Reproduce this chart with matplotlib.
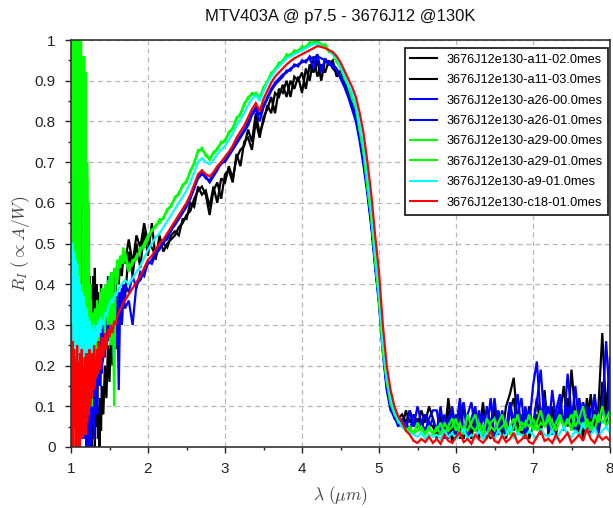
import numpy as np
import matplotlib
matplotlib.use("Agg")
import matplotlib.pyplot as plt

plt.rcParams['font.family'] = ['Liberation Sans', 'DejaVu Sans']
plt.rcParams['mathtext.fontset'] = 'cm'

title = "MTV403A @ p7.5 - 3676J12 @130K"
xlabel = r"$\lambda\ (\mu m)$"
ylabel = r"$R_I\ (\propto A/W)$"

# wavelength grids (µm)
wl_head1 = np.round(np.arange(1.00, 1.4001, 0.01), 3)  # 41 pts
wl_head2 = np.round(np.arange(1.42, 1.7001, 0.02), 3)  # 15 pts
wl_mid = np.round(np.arange(1.75, 5.7001, 0.05), 3)    # 80 pts
wl_tail = np.round(np.arange(5.75, 8.0001, 0.05), 3)   # 46 pts

labels = ["3676J12e130-a11-02.0mes", "3676J12e130-a11-03.0mes",
          "3676J12e130-a26-00.0mes", "3676J12e130-a26-01.0mes",
          "3676J12e130-a29-00.0mes", "3676J12e130-a29-01.0mes",
          "3676J12e130-a9-01.0mes", "3676J12e130-c18-01.0mes"]
colors = ["#000000", "#000000", "#0000ff", "#0000ff",
          "#00ff00", "#00ff00", "#00ffff", "#ff0000"]

# ---- a11-02 (black)
a11_02_head = [1.05,0.50,1.05,0.80,1.05,0.60,1.05,0.70,1.05,0.45,1.05,0.75,1.05,0.55,0.95,0.40,0.90,0.30,0.76,0.25,
               0.70,0.20,0.60,0.10,0.42,0.05,0.40,0.0,0.35,0.02,0.42,0.0,0.30,0.05,0.15,0.02,0.10,0.0,0.12,0.04,0.15,
               0.08,0.20,0.12,0.25,0.16,0.28,0.20,0.30,0.24,0.33,0.28,0.38,0.30,0.40,0.36]
a11_02_mid = [0.48,0.42,0.50,0.44,0.53,0.47,0.55,0.46,0.52,0.48,0.50,0.51,0.52,0.54,0.55,0.57,0.58,0.61,0.63,0.64,
              0.62,0.57,0.63,0.65,0.61,0.67,0.68,0.65,0.72,0.69,0.75,0.76,0.73,0.80,0.76,0.81,0.83,0.86,0.82,0.88,
              0.87,0.90,0.86,0.91,0.90,0.92,0.88,0.94,0.92,0.95,0.90,0.95,0.94,0.95,0.91,0.925,0.90,0.88,0.86,0.82,
              0.78,0.72,0.64,0.56,0.46,0.37,0.25,0.16,0.12,0.09,0.07,0.08,0.06,0.09,0.05,0.07,0.04,0.08,0.06,0.05]
a11_02_tail = [0.03,0.09,0.02,0.12,0.04,0.08,0.02,0.10,0.05,0.02,0.09,0.03,0.11,0.02,0.07,0.02,0.08,0.03,0.10,0.13,
               0.17,0.06,0.03,0.09,0.02,0.05,0.12,0.04,0.14,0.03,0.10,0.04,0.08,0.15,0.05,0.19,0.08,0.03,0.11,0.05,
               0.13,0.04,0.10,0.28,0.08,0.22]

# ---- a11-03 (black)
a11_03_head = [1.05,0.95,1.05,0.60,1.05,0.85,1.05,0.94,0.70,1.05,0.55,0.94,0.60,0.76,0.35,0.70,0.40,0.60,0.25,0.55,
               0.30,0.42,0.15,0.38,0.10,0.35,0.05,0.30,0.10,0.42,0.30,0.44,0.25,0.40,0.28,0.38,0.25,0.36,0.30,0.40,0.33,
               0.28,0.36,0.30,0.39,0.33,0.41,0.35,0.43,0.38,0.44,0.40,0.46,0.42,0.47,0.45]
a11_03_mid = [0.51,0.45,0.52,0.49,0.55,0.50,0.49,0.47,0.49,0.50,0.49,0.52,0.53,0.52,0.56,0.56,0.60,0.59,0.64,0.62,
              0.63,0.59,0.64,0.60,0.66,0.65,0.69,0.66,0.71,0.73,0.74,0.78,0.75,0.82,0.77,0.80,0.84,0.82,0.87,0.86,
              0.89,0.86,0.90,0.88,0.91,0.87,0.93,0.90,0.96,0.91,0.94,0.92,0.95,0.93,0.92,0.91,0.89,0.87,0.84,0.81,
              0.77,0.71,0.63,0.55,0.45,0.36,0.24,0.15,0.11,0.08,0.07,0.05,0.09,0.06,0.08,0.05,0.09,0.06,0.10,0.07]
a11_03_tail = [0.02,0.07,0.03,0.09,0.01,0.06,0.10,0.02,0.08,0.03,0.07,0.02,0.09,0.04,0.02,0.10,0.03,0.07,0.02,0.09,
               0.12,0.03,0.08,0.02,0.10,0.04,0.08,0.03,0.12,0.05,0.09,0.03,0.10,0.05,0.12,0.06,0.04,0.10,0.02,0.12,
               0.05,0.09,0.03,0.16,0.06,0.11]

# ---- a26-00 (blue)
a26_00_head = [1.05,0.0,1.05,0.20,1.05,0.85,0.96,0.40,0.96,0.55,0.95,0.30,0.95,0.20,0.60,0.45,0.15,0.40,0.10,0.33,
               0.05,0.30,0.08,0.25,0.0,0.28,0.12,0.30,0.05,0.30,0.18,0.32,0.10,0.30,0.20,0.33,0.15,0.30,0.22,0.31,0.20,
               0.22,0.36,0.25,0.42,0.28,0.38,0.22,0.36,0.25,0.37,0.14,0.38,0.30,0.40,0.34]
a26_00_mid = [0.36,0.30,0.40,0.41,0.43,0.45,0.46,0.48,0.49,0.50,0.52,0.53,0.55,0.565,0.58,0.595,0.615,0.64,0.665,0.675,
              0.66,0.655,0.67,0.685,0.695,0.705,0.72,0.735,0.75,0.765,0.78,0.80,0.82,0.835,0.815,0.84,0.86,0.88,0.895,0.905,
              0.915,0.92,0.93,0.935,0.94,0.945,0.95,0.955,0.93,0.96,0.955,0.95,0.945,0.94,0.93,0.91,0.89,0.865,0.84,0.81,
              0.76,0.70,0.63,0.55,0.45,0.36,0.24,0.15,0.10,0.07,0.06,0.05,0.06,0.04,0.08,0.05,0.06,0.04,0.07,0.09]
a26_00_tail = [0.09,0.03,0.08,0.02,0.10,0.04,0.12,0.03,0.08,0.11,0.04,0.09,0.02,0.10,0.05,0.12,0.03,0.09,0.04,0.11,
               0.06,0.13,0.04,0.10,0.05,0.15,0.21,0.07,0.12,0.04,0.14,0.06,0.11,0.05,0.18,0.08,0.04,0.12,0.06,0.10,
               0.03,0.13,0.05,0.09,0.26,0.10]

# ---- a26-01 (blue)
a26_01_head = [0.0,1.05,0.40,1.05,0.70,1.05,0.50,0.98,0.30,0.98,0.20,0.90,0.15,0.60,0.10,0.30,0.05,0.25,0.02,0.22,
               0.0,0.25,0.0,0.20,0.03,0.22,0.0,0.22,0.06,0.25,0.02,0.26,0.12,0.28,0.08,0.28,0.18,0.30,0.15,0.31,0.18,
               0.30,0.22,0.33,0.26,0.34,0.28,0.36,0.30,0.37,0.32,0.38,0.34,0.39,0.36,0.40]
a26_01_mid = [0.38,0.42,0.39,0.43,0.42,0.455,0.45,0.475,0.485,0.505,0.51,0.535,0.545,0.56,0.575,0.59,0.61,0.635,0.66,0.67,
              0.665,0.65,0.665,0.68,0.70,0.70,0.715,0.73,0.745,0.76,0.775,0.79,0.815,0.83,0.80,0.835,0.855,0.875,0.89,0.90,
              0.91,0.925,0.925,0.94,0.935,0.95,0.945,0.96,0.95,0.965,0.92,0.955,0.94,0.935,0.925,0.905,0.885,0.86,0.83,0.80,
              0.75,0.69,0.62,0.54,0.44,0.35,0.23,0.14,0.09,0.075,0.05,0.07,0.04,0.09,0.05,0.10,0.06,0.08,0.05,0.07]
a26_01_tail = [0.04,0.10,0.02,0.07,0.09,0.03,0.08,0.11,0.02,0.07,0.10,0.03,0.08,0.04,0.12,0.02,0.09,0.05,0.03,0.10,
               0.04,0.08,0.12,0.03,0.09,0.05,0.11,0.19,0.06,0.10,0.03,0.09,0.13,0.04,0.10,0.06,0.15,0.05,0.11,0.04,
               0.09,0.12,0.03,0.10,0.06,0.14]

# ---- a29-00 (green)
a29_00_head = [1.05,0.30,1.05,0.45,1.05,0.90,1.05,0.35,1.05,0.65,1.05,0.50,1.05,0.95,0.60,0.96,0.40,0.96,0.30,0.92,
               0.25,0.66,0.35,0.60,0.28,0.40,0.22,0.33,0.20,0.31,0.24,0.34,0.25,0.30,0.22,0.33,0.26,0.35,0.28,0.38,0.30,
               0.35,0.28,0.40,0.30,0.42,0.25,0.43,0.10,0.44,0.40,0.45,0.44,0.47,0.45,0.48]
a29_00_mid = [0.44,0.45,0.47,0.48,0.50,0.52,0.53,0.545,0.55,0.565,0.58,0.595,0.61,0.625,0.64,0.655,0.675,0.70,0.725,0.735,
              0.715,0.71,0.72,0.735,0.745,0.755,0.77,0.785,0.805,0.82,0.84,0.86,0.865,0.87,0.86,0.88,0.90,0.915,0.93,0.94,
              0.95,0.96,0.965,0.97,0.975,0.98,0.985,0.99,0.995,0.995,0.99,0.985,0.975,0.965,0.95,0.93,0.91,0.885,0.86,0.83,
              0.78,0.72,0.64,0.56,0.46,0.36,0.24,0.16,0.11,0.08,0.065,0.05,0.045,0.04,0.035,0.04,0.05,0.03,0.045,0.035]
a29_00_tail = [0.04,0.06,0.03,0.05,0.07,0.04,0.06,0.03,0.08,0.05,0.04,0.06,0.03,0.07,0.05,0.04,0.06,0.08,0.04,0.05,
               0.07,0.03,0.06,0.05,0.08,0.04,0.06,0.09,0.05,0.07,0.04,0.06,0.08,0.05,0.07,0.04,0.09,0.06,0.05,0.07,
               0.04,0.08,0.06,0.10,0.05,0.07]

# ---- a29-01 (green)
a29_01_head = [1.05,0.95,1.05,0.40,1.05,0.70,1.05,0.92,1.05,0.30,1.05,0.96,0.35,1.05,0.65,0.96,0.30,0.90,0.45,0.80,
               0.30,0.70,0.20,0.45,0.33,0.15,0.36,0.10,0.30,0.20,0.33,0.15,0.32,0.22,0.36,0.25,0.34,0.28,0.37,0.30,0.39,
               0.32,0.40,0.35,0.41,0.36,0.43,0.38,0.44,0.42,0.46,0.45,0.47,0.46,0.49,0.47]
a29_01_mid = [0.43,0.46,0.46,0.49,0.49,0.51,0.535,0.54,0.56,0.56,0.585,0.59,0.615,0.62,0.645,0.65,0.68,0.695,0.73,0.73,
              0.72,0.705,0.725,0.73,0.75,0.75,0.775,0.78,0.81,0.815,0.845,0.855,0.87,0.865,0.855,0.885,0.895,0.92,0.925,0.945,
              0.945,0.965,0.96,0.975,0.97,0.985,0.98,0.995,0.99,1.0,0.985,0.99,0.97,0.97,0.945,0.935,0.905,0.89,0.855,0.835,
              0.775,0.725,0.635,0.565,0.455,0.365,0.235,0.165,0.105,0.085,0.06,0.055,0.04,0.05,0.03,0.06,0.04,0.035,0.05,0.03]
a29_01_tail = [0.05,0.03,0.06,0.04,0.05,0.07,0.03,0.05,0.04,0.06,0.08,0.04,0.05,0.03,0.06,0.07,0.04,0.05,0.06,0.03,
               0.05,0.08,0.04,0.06,0.05,0.07,0.04,0.06,0.05,0.08,0.06,0.04,0.07,0.05,0.06,0.08,0.05,0.07,0.10,0.05,
               0.06,0.04,0.08,0.06,0.07,0.09]

# ---- a9-01 (cyan)
a9_01_head = [0.52,0.20,0.50,0.18,0.48,0.22,0.46,0.19,0.45,0.20,0.42,0.18,0.40,0.21,0.38,0.19,0.37,0.20,0.35,0.22,
              0.34,0.21,0.32,0.22,0.31,0.23,0.30,0.22,0.29,0.24,0.30,0.25,0.28,0.26,0.30,0.27,0.31,0.28,0.32,0.29,0.31,
              0.30,0.33,0.32,0.34,0.35,0.36,0.355,0.37,0.375,0.38,0.39,0.395,0.40,0.405,0.41]
a9_01_mid = [0.40,0.415,0.43,0.445,0.465,0.485,0.50,0.515,0.525,0.54,0.555,0.57,0.585,0.60,0.615,0.63,0.65,0.675,0.70,0.71,
             0.70,0.695,0.705,0.72,0.73,0.74,0.755,0.77,0.79,0.805,0.82,0.84,0.855,0.865,0.85,0.875,0.895,0.91,0.925,0.935,
             0.945,0.955,0.96,0.965,0.97,0.975,0.98,0.985,0.99,0.99,0.985,0.98,0.975,0.965,0.955,0.935,0.915,0.89,0.87,0.84,
             0.79,0.74,0.66,0.58,0.48,0.38,0.26,0.17,0.12,0.085,0.065,0.05,0.04,0.035,0.03,0.025,0.035,0.02,0.03,0.025]
a9_01_tail = [0.03,0.02,0.04,0.025,0.035,0.02,0.03,0.045,0.02,0.03,0.025,0.04,0.02,0.035,0.03,0.02,0.04,0.025,0.03,0.05,
              0.02,0.035,0.03,0.025,0.04,0.03,0.02,0.045,0.03,0.025,0.04,0.02,0.035,0.05,0.03,0.025,0.04,0.03,0.06,0.035,
              0.03,0.045,0.025,0.04,0.05,0.035]

# ---- c18-01 (red)
c18_01_head = [0.30,0.02,0.26,0.0,0.24,0.05,0.22,0.0,0.25,0.03,0.21,0.0,0.23,0.04,0.24,0.02,0.20,0.05,0.22,0.03,
               0.23,0.06,0.21,0.08,0.24,0.10,0.22,0.12,0.23,0.14,0.25,0.15,0.22,0.17,0.24,0.18,0.26,0.19,0.25,0.20,0.27,
               0.22,0.28,0.24,0.29,0.27,0.30,0.28,0.31,0.30,0.32,0.33,0.34,0.345,0.355,0.36]
c18_01_mid = [0.375,0.39,0.405,0.42,0.44,0.46,0.47,0.485,0.50,0.51,0.525,0.54,0.555,0.57,0.585,0.60,0.62,0.645,0.67,0.68,
              0.67,0.665,0.675,0.69,0.70,0.713,0.725,0.74,0.76,0.775,0.79,0.81,0.83,0.845,0.825,0.855,0.875,0.895,0.91,0.92,
              0.93,0.94,0.948,0.955,0.96,0.965,0.97,0.975,0.98,0.985,0.983,0.98,0.975,0.97,0.96,0.945,0.925,0.905,0.885,0.86,
              0.82,0.77,0.70,0.62,0.52,0.43,0.30,0.20,0.14,0.10,0.075,0.06,0.04,0.03,0.015,0.01,0.02,0.012,0.025,0.01]
c18_01_tail = [0.02,0.008,0.03,0.015,0.01,0.025,0.035,0.012,0.02,0.008,0.03,0.018,0.01,0.022,0.038,0.015,0.01,0.028,0.012,0.02,
               0.035,0.01,0.018,0.03,0.012,0.008,0.025,0.04,0.015,0.02,0.01,0.03,0.012,0.022,0.035,0.01,0.02,0.03,0.015,0.045,
               0.02,0.01,0.03,0.018,0.025,0.015]

series = [
    (a11_02_head, a11_02_mid, a11_02_tail),
    (a11_03_head, a11_03_mid, a11_03_tail),
    (a26_00_head, a26_00_mid, a26_00_tail),
    (a26_01_head, a26_01_mid, a26_01_tail),
    (a29_00_head, a29_00_mid, a29_00_tail),
    (a29_01_head, a29_01_mid, a29_01_tail),
    (a9_01_head, a9_01_mid, a9_01_tail),
    (c18_01_head, c18_01_mid, c18_01_tail),
]

wl = np.concatenate([wl_head1, wl_head2, wl_mid, wl_tail])

fig = plt.figure(figsize=(6.13, 5.08), dpi=100)
ax = fig.add_axes([71/613, 61/508, 539/613, 407/508])

for (h, m, t), lab, col in zip(series, labels, colors):
    y = np.concatenate([h, m, t])
    ax.plot(wl, y, color=col, lw=1.6, label=lab, solid_joinstyle='miter')

ax.set_xlim(1, 8)
ax.set_ylim(0, 1)
ax.set_xticks(np.arange(1, 9, 1))
ax.set_xticklabels([str(i) for i in range(1, 9)])
ax.set_yticks(np.round(np.arange(0, 1.01, 0.1), 1))
ax.set_yticklabels(["0"] + [f"{v:.1f}" for v in np.arange(0.1, 0.95, 0.1)] + ["1"])
ax.set_xticks(np.arange(1.5, 8, 1.0), minor=True)
ax.set_yticks(np.arange(0.05, 1.0, 0.1), minor=True)
ax.tick_params(which='major', direction='out', length=4, width=1, labelsize=11, pad=7, colors='#222222')
ax.tick_params(which='minor', direction='out', length=2.5, width=1, colors='#222222')
ax.grid(True, which='major', color='#b8b8b8', linestyle=(0, (4, 3)), lw=0.9)
ax.set_axisbelow(True)
for s in ax.spines.values():
    s.set_color('#333333')
    s.set_linewidth(1.2)

ax.set_title(title, fontsize=12, pad=14, color='#111111')
ax.set_xlabel(xlabel, fontsize=12.5, labelpad=6, color='#444444')
ax.set_ylabel(ylabel, fontsize=12.5, labelpad=2, color='#444444')

leg = ax.legend(loc='upper right', bbox_to_anchor=(608/613, (508-48)/508),
                bbox_transform=fig.transFigure, borderaxespad=0,
                fontsize=9.2, handlelength=2.1, handletextpad=0.7,
                labelspacing=0.66, borderpad=0.45, fancybox=False,
                framealpha=1, edgecolor='#222222')
leg.get_frame().set_linewidth(1.3)
for line in leg.get_lines():
    line.set_linewidth(1.5)

fig.savefig("out.png", dpi=100)
